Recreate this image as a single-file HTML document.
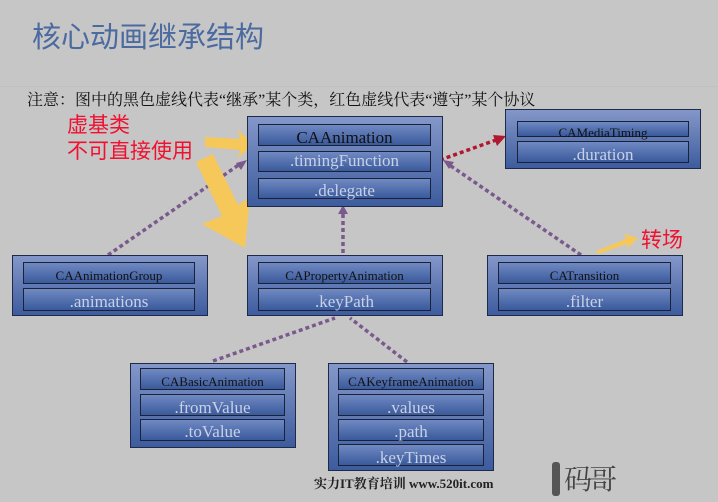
<!DOCTYPE html>
<html><head><meta charset="utf-8"><style>
body{margin:0;width:718px;height:502px;background:#c6c6c6;position:relative;overflow:hidden;font-family:"Liberation Serif","Noto Serif CJK SC",serif}
.o{position:absolute;background:linear-gradient(#8497c9,#3d5c9e);border:1px solid #1e2a48;box-sizing:border-box}
.r{position:absolute;background:linear-gradient(#7089c2,#3a5a9c);border:1.5px solid #1a2238;box-sizing:border-box;text-align:center;color:#c9d1e6;font-size:17px;line-height:18px}
.k{color:#111;font-size:13px}
.t{position:absolute;white-space:nowrap}
</style></head><body>
<div class="t" style="left:32px;top:14px;font-size:29px;color:#4a6aa0;font-family:'Liberation Sans','Noto Sans CJK SC',sans-serif">核心动画继承结构</div>
<div style="position:absolute;left:0;top:86px;width:718px;height:1px;background:#c0c0c0"></div>
<div class="t" style="left:27px;top:87px;font-size:16px;color:#111">注意：图中的黑色虚线代表“继承”某个类，红色虚线代表“遵守”某个协议</div>

<svg width="718" height="502" style="position:absolute;left:0;top:0">
<g stroke="#7a5a8c" stroke-width="3.5" stroke-dasharray="4 3" fill="none">
<line x1="108" y1="255" x2="240" y2="164"/>
<line x1="343" y1="253" x2="343" y2="212"/>
<line x1="581" y1="255" x2="448" y2="164"/>
<line x1="213" y1="361" x2="335" y2="318"/>
<line x1="407" y1="362" x2="350" y2="318"/>
</g>
<polygon points="247,160 236,163 241,170" fill="#7a5a8c"/>
<polygon points="343,205 338,214 348,214" fill="#7a5a8c"/>
<polygon points="443,160 454,162 449,169" fill="#7a5a8c"/>
<line x1="440" y1="160" x2="496" y2="140" stroke="#b01830" stroke-width="3.5" stroke-dasharray="4 3"/>
<polygon points="506,136 493,135 497,146" fill="#b01830"/>
<g fill="#f6c85a">
<polygon points="205,137 240,139 238,130 253,144 238,158 240,150 205,147"/>
<polygon points="196,162 213,154 238,205 250,197 245,248 202,224 222,216"/>
<polygon points="596,251 626,239 624,234 638,238 628,248 627,244 598,254"/>
</g>
</svg>

<div class="t" style="left:67px;top:113px;font-size:21px;color:#f01030;line-height:26px;font-family:'Liberation Sans','Noto Sans CJK SC',sans-serif">虚基类<br>不可直接使用</div>
<div class="t" style="left:641px;top:224px;font-size:21px;color:#f01030;font-family:'Liberation Sans','Noto Sans CJK SC',sans-serif">转场</div>

<div class="o" style="left:247px;top:116px;width:196px;height:91px"></div>
<div class="r k" style="left:258px;top:124px;width:173px;height:22px;font-size:17px;line-height:26px">CAAnimation</div>
<div class="r" style="left:258px;top:151px;width:173px;height:21px">.timingFunction</div>
<div class="r" style="left:258px;top:178px;width:173px;height:21px;line-height:24px">.delegate</div>

<div class="o" style="left:505px;top:109px;width:196px;height:60px"></div>
<div class="r k" style="left:517px;top:121px;width:172px;height:16px;line-height:22px">CAMediaTiming</div>
<div class="r" style="left:517px;top:141px;width:172px;height:22px;line-height:26px">.duration</div>

<div class="o" style="left:12px;top:255px;width:196px;height:61px"></div>
<div class="r k" style="left:23px;top:262px;width:172px;height:22px;line-height:26px">CAAnimationGroup</div>
<div class="r" style="left:23px;top:288px;width:172px;height:23px;line-height:26px">.animations</div>

<div class="o" style="left:247px;top:255px;width:196px;height:61px"></div>
<div class="r k" style="left:258px;top:262px;width:173px;height:22px;line-height:26px">CAPropertyAnimation</div>
<div class="r" style="left:258px;top:288px;width:173px;height:23px;line-height:26px">.keyPath</div>

<div class="o" style="left:487px;top:255px;width:196px;height:61px"></div>
<div class="r k" style="left:498px;top:262px;width:173px;height:22px;line-height:26px">CATransition</div>
<div class="r" style="left:498px;top:288px;width:173px;height:23px;line-height:26px">.filter</div>

<div class="o" style="left:130px;top:363px;width:166px;height:85px"></div>
<div class="r k" style="left:140px;top:368px;width:145px;height:22px;line-height:26px">CABasicAnimation</div>
<div class="r" style="left:140px;top:394px;width:145px;height:22px;line-height:26px">.fromValue</div>
<div class="r" style="left:140px;top:419px;width:145px;height:22px;line-height:24px">.toValue</div>

<div class="o" style="left:328px;top:363px;width:166px;height:108px"></div>
<div class="r k" style="left:338px;top:368px;width:146px;height:22px;line-height:26px">CAKeyframeAnimation</div>
<div class="r" style="left:338px;top:394px;width:146px;height:22px;line-height:26px">.values</div>
<div class="r" style="left:338px;top:419px;width:146px;height:22px;line-height:24px">.path</div>
<div class="r" style="left:338px;top:444px;width:146px;height:22px;line-height:26px">.keyTimes</div>

<div class="t" style="left:314px;top:473px;font-size:13px;font-weight:bold;color:#222">实力IT教育培训 www.520it.com</div>
<div style="position:absolute;left:552px;top:462px;width:8px;height:34px;background:#555;border-radius:3px"></div>
<div class="t" style="left:564px;top:458px;font-size:28px;color:#444;letter-spacing:-3px">码哥</div>
</body></html>
